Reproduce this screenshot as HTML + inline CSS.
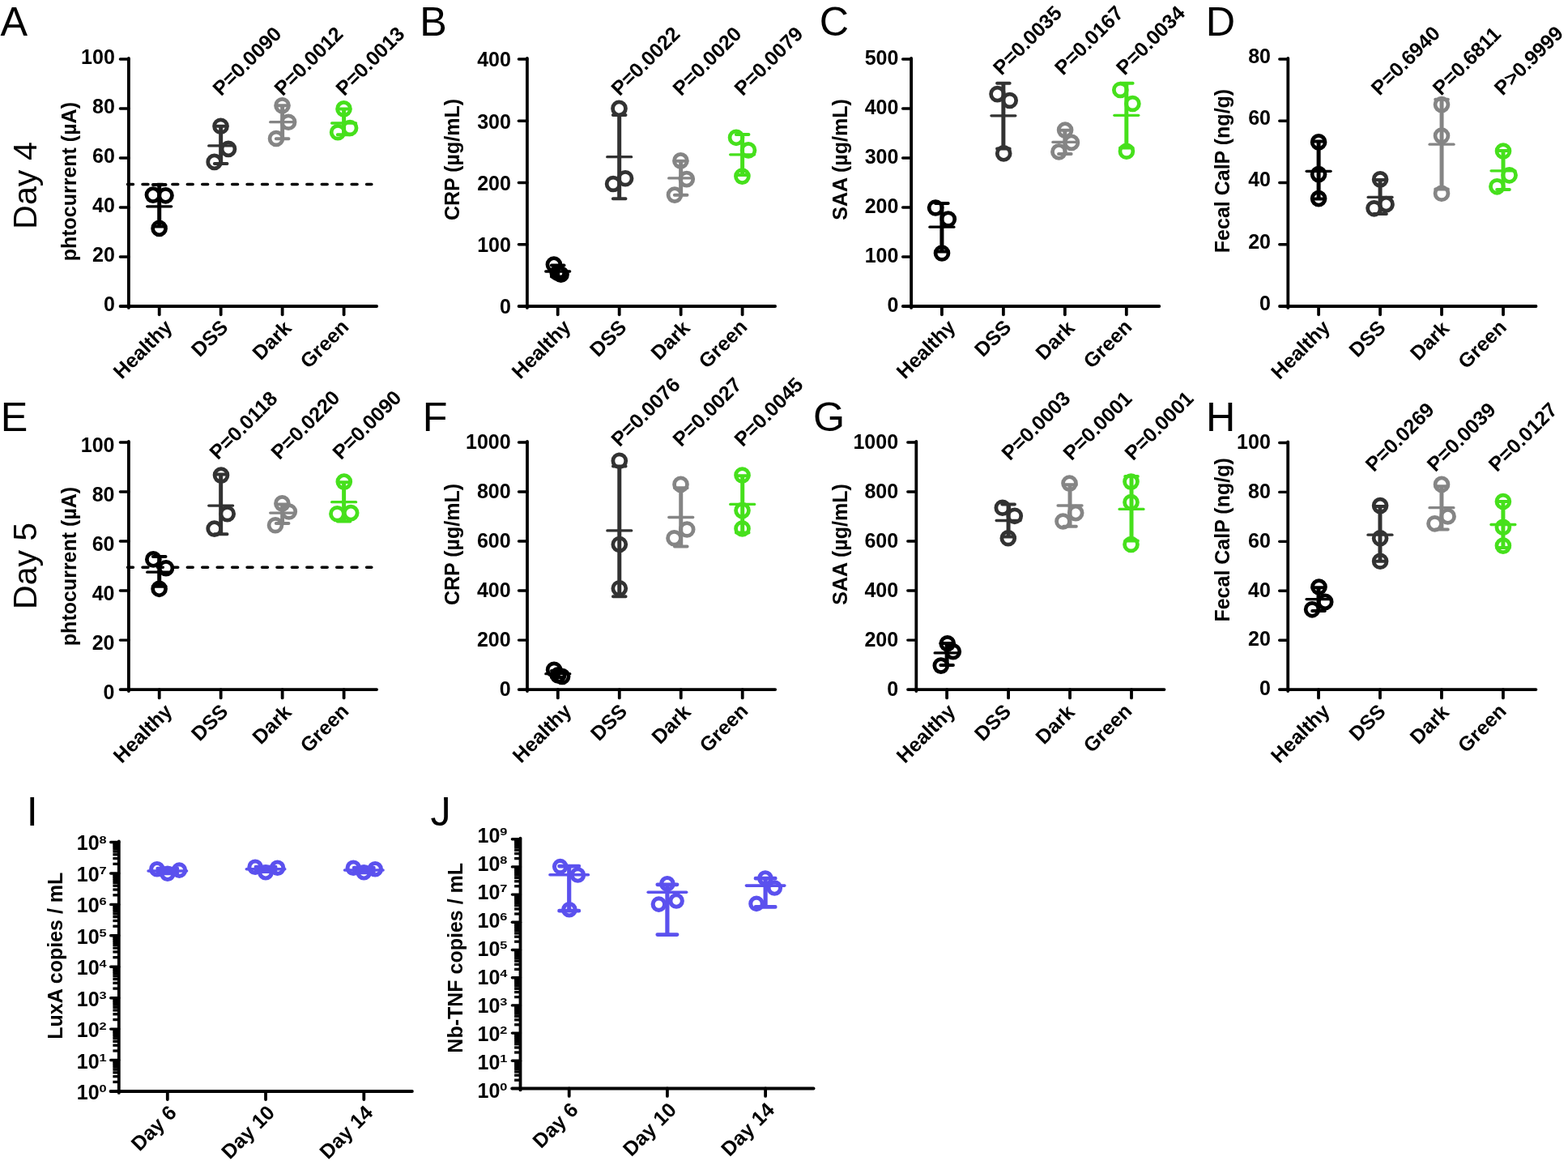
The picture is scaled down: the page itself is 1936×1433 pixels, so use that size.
<!DOCTYPE html>
<html lang="en">
<head>
<meta charset="utf-8">
<title>Figure</title>
<style>
html,body{margin:0;padding:0;background:#fff;}
body{width:1936px;height:1433px;overflow:hidden;}
svg{display:block;font-family:"Liberation Sans",sans-serif;}
</style>
</head>
<body>
<svg width="1936" height="1433" viewBox="0 0 1936 1433">
<rect width="1936" height="1433" fill="#ffffff"/>
<line x1="157.6" y1="227.5" x2="458.8" y2="227.5" stroke="#000000" stroke-width="3.6" stroke-linecap="round" stroke-dasharray="6.8 11.64"/>
<g stroke-linecap="round">
<line x1="158.9" y1="71.9" x2="158.9" y2="379.9" stroke="#000000" stroke-width="3.8"/>
<line x1="148.6" y1="378" x2="465.1" y2="378" stroke="#000000" stroke-width="3.8"/>
<line x1="196.7" y1="378" x2="196.7" y2="388.3" stroke="#000000" stroke-width="3.8"/>
<line x1="272.67" y1="378" x2="272.67" y2="388.3" stroke="#000000" stroke-width="3.8"/>
<line x1="348.64" y1="378" x2="348.64" y2="388.3" stroke="#000000" stroke-width="3.8"/>
<line x1="424.61" y1="378" x2="424.61" y2="388.3" stroke="#000000" stroke-width="3.8"/>
</g>
<g stroke-linecap="round">
<text x="141.8" y="383.95" font-size="25" text-anchor="end" font-weight="bold" fill="#000000">0</text>
<line x1="148.4" y1="317" x2="158.9" y2="317" stroke="#000000" stroke-width="3.4"/>
<text x="141.8" y="322.95" font-size="25" text-anchor="end" font-weight="bold" fill="#000000">20</text>
<line x1="148.4" y1="256" x2="158.9" y2="256" stroke="#000000" stroke-width="3.4"/>
<text x="141.8" y="261.95" font-size="25" text-anchor="end" font-weight="bold" fill="#000000">40</text>
<line x1="148.4" y1="195" x2="158.9" y2="195" stroke="#000000" stroke-width="3.4"/>
<text x="141.8" y="200.95" font-size="25" text-anchor="end" font-weight="bold" fill="#000000">60</text>
<line x1="148.4" y1="134" x2="158.9" y2="134" stroke="#000000" stroke-width="3.4"/>
<text x="141.8" y="139.95" font-size="25" text-anchor="end" font-weight="bold" fill="#000000">80</text>
<line x1="148.4" y1="73" x2="158.9" y2="73" stroke="#000000" stroke-width="3.4"/>
<text x="141.8" y="78.95" font-size="25" text-anchor="end" font-weight="bold" fill="#000000">100</text>
</g>
<text transform="translate(214.1 405.2) rotate(-45)" font-size="25" text-anchor="end" font-weight="bold" fill="#000000">Healthy</text>
<text transform="translate(282.97 405.5) rotate(-45)" font-size="25" text-anchor="end" font-weight="bold" fill="#000000">DSS</text>
<text transform="translate(361.34 406.5) rotate(-45)" font-size="25" text-anchor="end" font-weight="bold" fill="#000000">Dark</text>
<text transform="translate(432.11 405) rotate(-45)" font-size="25" text-anchor="end" font-weight="bold" fill="#000000">Green</text>
<text transform="translate(94.4 224.2) rotate(-90)" font-size="25" text-anchor="middle" font-weight="bold" fill="#000000">phtocurrent (µA)</text>
<text transform="translate(272.97 119.6) rotate(-45)" font-size="25" text-anchor="start" font-weight="bold" fill="#000000">P=0.0090</text>
<text transform="translate(348.94 119.6) rotate(-45)" font-size="25" text-anchor="start" font-weight="bold" fill="#000000">P=0.0012</text>
<text transform="translate(424.91 119.6) rotate(-45)" font-size="25" text-anchor="start" font-weight="bold" fill="#000000">P=0.0013</text>
<g stroke="#000000" fill="none" stroke-linecap="round">
<path d="M196.7 228V279.6" stroke-width="5" stroke-linecap="butt"/>
<path d="M188.9 228H204.5 M188.9 279.6H204.5" stroke-width="4"/>
<path d="M181.75 254.8H211.65" stroke-width="3.3"/>
<circle cx="188.9" cy="240.6" r="7.95" stroke-width="4.75"/>
<circle cx="204.5" cy="241.3" r="7.95" stroke-width="4.75"/>
<circle cx="196.6" cy="281.9" r="7.95" stroke-width="4.75"/>
</g>
<g stroke="#323232" fill="none" stroke-linecap="round">
<path d="M272.67 155.7V202" stroke-width="5" stroke-linecap="butt"/>
<path d="M264.87 155.7H280.47 M264.87 202H280.47" stroke-width="4"/>
<path d="M257.72 179.9H287.62" stroke-width="3.3"/>
<circle cx="272.5" cy="155.7" r="7.95" stroke-width="4.75"/>
<circle cx="282" cy="183.9" r="7.95" stroke-width="4.75"/>
<circle cx="264.7" cy="199.9" r="7.95" stroke-width="4.75"/>
</g>
<g stroke="#858585" fill="none" stroke-linecap="round">
<path d="M348.64 130.2V171.3" stroke-width="5" stroke-linecap="butt"/>
<path d="M340.84 130.2H356.44 M340.84 171.3H356.44" stroke-width="4"/>
<path d="M333.69 150.7H363.59" stroke-width="3.3"/>
<circle cx="348.5" cy="130.2" r="7.95" stroke-width="4.75"/>
<circle cx="356.1" cy="150.7" r="7.95" stroke-width="4.75"/>
<circle cx="341" cy="171" r="7.95" stroke-width="4.75"/>
</g>
<g stroke="#46e01c" fill="none" stroke-linecap="round">
<path d="M424.61 134.6V166.2" stroke-width="5" stroke-linecap="butt"/>
<path d="M416.81 134.6H432.41 M416.81 166.2H432.41" stroke-width="4"/>
<path d="M409.66 152H439.56" stroke-width="3.3"/>
<circle cx="424.5" cy="134.4" r="7.95" stroke-width="4.75"/>
<circle cx="432.1" cy="158" r="7.95" stroke-width="4.75"/>
<circle cx="417.1" cy="163.2" r="7.95" stroke-width="4.75"/>
</g>
<g stroke-linecap="round">
<line x1="650.9" y1="71.9" x2="650.9" y2="379.9" stroke="#000000" stroke-width="3.8"/>
<line x1="640.6" y1="378" x2="957.1" y2="378" stroke="#000000" stroke-width="3.8"/>
<line x1="688.7" y1="378" x2="688.7" y2="388.3" stroke="#000000" stroke-width="3.8"/>
<line x1="764.67" y1="378" x2="764.67" y2="388.3" stroke="#000000" stroke-width="3.8"/>
<line x1="840.64" y1="378" x2="840.64" y2="388.3" stroke="#000000" stroke-width="3.8"/>
<line x1="916.61" y1="378" x2="916.61" y2="388.3" stroke="#000000" stroke-width="3.8"/>
</g>
<g stroke-linecap="round">
<text x="630.9" y="387.45" font-size="25" text-anchor="end" font-weight="bold" fill="#000000">0</text>
<line x1="640.4" y1="301.75" x2="650.9" y2="301.75" stroke="#000000" stroke-width="3.4"/>
<text x="630.9" y="311.2" font-size="25" text-anchor="end" font-weight="bold" fill="#000000">100</text>
<line x1="640.4" y1="225.5" x2="650.9" y2="225.5" stroke="#000000" stroke-width="3.4"/>
<text x="630.9" y="234.95" font-size="25" text-anchor="end" font-weight="bold" fill="#000000">200</text>
<line x1="640.4" y1="149.25" x2="650.9" y2="149.25" stroke="#000000" stroke-width="3.4"/>
<text x="630.9" y="158.7" font-size="25" text-anchor="end" font-weight="bold" fill="#000000">300</text>
<line x1="640.4" y1="73" x2="650.9" y2="73" stroke="#000000" stroke-width="3.4"/>
<text x="630.9" y="82.45" font-size="25" text-anchor="end" font-weight="bold" fill="#000000">400</text>
</g>
<text transform="translate(706.1 405.2) rotate(-45)" font-size="25" text-anchor="end" font-weight="bold" fill="#000000">Healthy</text>
<text transform="translate(774.97 405.5) rotate(-45)" font-size="25" text-anchor="end" font-weight="bold" fill="#000000">DSS</text>
<text transform="translate(853.34 406.5) rotate(-45)" font-size="25" text-anchor="end" font-weight="bold" fill="#000000">Dark</text>
<text transform="translate(924.11 405) rotate(-45)" font-size="25" text-anchor="end" font-weight="bold" fill="#000000">Green</text>
<text transform="translate(567.1 197) rotate(-90)" font-size="25" text-anchor="middle" font-weight="bold" fill="#000000">CRP (µg/mL)</text>
<text transform="translate(764.97 119.6) rotate(-45)" font-size="25" text-anchor="start" font-weight="bold" fill="#000000">P=0.0022</text>
<text transform="translate(840.94 119.6) rotate(-45)" font-size="25" text-anchor="start" font-weight="bold" fill="#000000">P=0.0020</text>
<text transform="translate(916.91 119.6) rotate(-45)" font-size="25" text-anchor="start" font-weight="bold" fill="#000000">P=0.0079</text>
<g stroke="#000000" fill="none" stroke-linecap="round">
<path d="M688.7 327.5V341.5" stroke-width="5" stroke-linecap="butt"/>
<path d="M680.9 327.5H696.5 M680.9 341.5H696.5" stroke-width="4"/>
<path d="M673.75 335H703.65" stroke-width="3.3"/>
<circle cx="683.9" cy="326.6" r="7.95" stroke-width="4.75"/>
<circle cx="688.7" cy="336.8" r="7.95" stroke-width="4.75"/>
<circle cx="692.6" cy="338.7" r="7.95" stroke-width="4.75"/>
</g>
<g stroke="#323232" fill="none" stroke-linecap="round">
<path d="M764.67 141.9V245.2" stroke-width="5" stroke-linecap="butt"/>
<path d="M756.87 141.9H772.47 M756.87 245.2H772.47" stroke-width="4"/>
<path d="M749.72 193.7H779.62" stroke-width="3.3"/>
<circle cx="764.5" cy="133.9" r="7.95" stroke-width="4.75"/>
<circle cx="772.1" cy="220.2" r="7.95" stroke-width="4.75"/>
<circle cx="757.1" cy="227" r="7.95" stroke-width="4.75"/>
</g>
<g stroke="#858585" fill="none" stroke-linecap="round">
<path d="M840.64 198.8V240.8" stroke-width="5" stroke-linecap="butt"/>
<path d="M832.84 198.8H848.44 M832.84 240.8H848.44" stroke-width="4"/>
<path d="M825.69 219.9H855.59" stroke-width="3.3"/>
<circle cx="840.4" cy="198.4" r="7.95" stroke-width="4.75"/>
<circle cx="847.8" cy="221.1" r="7.95" stroke-width="4.75"/>
<circle cx="833" cy="240.6" r="7.95" stroke-width="4.75"/>
</g>
<g stroke="#46e01c" fill="none" stroke-linecap="round">
<path d="M916.61 166V216" stroke-width="5" stroke-linecap="butt"/>
<path d="M908.81 166H924.41 M908.81 216H924.41" stroke-width="4"/>
<path d="M901.66 190.8H931.56" stroke-width="3.3"/>
<circle cx="909" cy="169.8" r="7.95" stroke-width="4.75"/>
<circle cx="924" cy="185.4" r="7.95" stroke-width="4.75"/>
<circle cx="916.4" cy="217.6" r="7.95" stroke-width="4.75"/>
</g>
<g stroke-linecap="round">
<line x1="1125.1" y1="71.9" x2="1125.1" y2="379.9" stroke="#000000" stroke-width="3.8"/>
<line x1="1114.8" y1="378" x2="1431.3" y2="378" stroke="#000000" stroke-width="3.8"/>
<line x1="1162.9" y1="378" x2="1162.9" y2="388.3" stroke="#000000" stroke-width="3.8"/>
<line x1="1238.87" y1="378" x2="1238.87" y2="388.3" stroke="#000000" stroke-width="3.8"/>
<line x1="1314.84" y1="378" x2="1314.84" y2="388.3" stroke="#000000" stroke-width="3.8"/>
<line x1="1390.81" y1="378" x2="1390.81" y2="388.3" stroke="#000000" stroke-width="3.8"/>
</g>
<g stroke-linecap="round">
<text x="1109.4" y="384.65" font-size="25" text-anchor="end" font-weight="bold" fill="#000000">0</text>
<line x1="1114.6" y1="317" x2="1125.1" y2="317" stroke="#000000" stroke-width="3.4"/>
<text x="1109.4" y="323.65" font-size="25" text-anchor="end" font-weight="bold" fill="#000000">100</text>
<line x1="1114.6" y1="256" x2="1125.1" y2="256" stroke="#000000" stroke-width="3.4"/>
<text x="1109.4" y="262.65" font-size="25" text-anchor="end" font-weight="bold" fill="#000000">200</text>
<line x1="1114.6" y1="195" x2="1125.1" y2="195" stroke="#000000" stroke-width="3.4"/>
<text x="1109.4" y="201.65" font-size="25" text-anchor="end" font-weight="bold" fill="#000000">300</text>
<line x1="1114.6" y1="134" x2="1125.1" y2="134" stroke="#000000" stroke-width="3.4"/>
<text x="1109.4" y="140.65" font-size="25" text-anchor="end" font-weight="bold" fill="#000000">400</text>
<line x1="1114.6" y1="73" x2="1125.1" y2="73" stroke="#000000" stroke-width="3.4"/>
<text x="1109.4" y="79.65" font-size="25" text-anchor="end" font-weight="bold" fill="#000000">500</text>
</g>
<text transform="translate(1181.1 405.2) rotate(-45)" font-size="25" text-anchor="end" font-weight="bold" fill="#000000">Healthy</text>
<text transform="translate(1249.97 405.5) rotate(-45)" font-size="25" text-anchor="end" font-weight="bold" fill="#000000">DSS</text>
<text transform="translate(1328.34 406.5) rotate(-45)" font-size="25" text-anchor="end" font-weight="bold" fill="#000000">Dark</text>
<text transform="translate(1399.11 405) rotate(-45)" font-size="25" text-anchor="end" font-weight="bold" fill="#000000">Green</text>
<text transform="translate(1046.4 197) rotate(-90)" font-size="25" text-anchor="middle" font-weight="bold" fill="#000000">SAA (µg/mL)</text>
<text transform="translate(1236.47 93.9) rotate(-45)" font-size="25" text-anchor="start" font-weight="bold" fill="#000000">P=0.0035</text>
<text transform="translate(1312.44 93.9) rotate(-45)" font-size="25" text-anchor="start" font-weight="bold" fill="#000000">P=0.0167</text>
<text transform="translate(1388.41 93.9) rotate(-45)" font-size="25" text-anchor="start" font-weight="bold" fill="#000000">P=0.0034</text>
<g stroke="#000000" fill="none" stroke-linecap="round">
<path d="M1162.9 250.9V310.6" stroke-width="5" stroke-linecap="butt"/>
<path d="M1155.1 250.9H1170.7 M1155.1 310.6H1170.7" stroke-width="4"/>
<path d="M1147.95 280.2H1177.85" stroke-width="3.3"/>
<circle cx="1155.1" cy="256.5" r="7.95" stroke-width="4.75"/>
<circle cx="1170.8" cy="270.5" r="7.95" stroke-width="4.75"/>
<circle cx="1163" cy="312.5" r="7.95" stroke-width="4.75"/>
</g>
<g stroke="#323232" fill="none" stroke-linecap="round">
<path d="M1238.87 102.7V183.4" stroke-width="5" stroke-linecap="butt"/>
<path d="M1231.07 102.7H1246.67 M1231.07 183.4H1246.67" stroke-width="4"/>
<path d="M1223.92 142.8H1253.82" stroke-width="3.3"/>
<circle cx="1231.5" cy="116.1" r="7.95" stroke-width="4.75"/>
<circle cx="1246.7" cy="124" r="7.95" stroke-width="4.75"/>
<circle cx="1239.2" cy="189.4" r="7.95" stroke-width="4.75"/>
</g>
<g stroke="#858585" fill="none" stroke-linecap="round">
<path d="M1314.84 160.7V189.9" stroke-width="5" stroke-linecap="butt"/>
<path d="M1307.04 160.7H1322.64 M1307.04 189.9H1322.64" stroke-width="4"/>
<path d="M1299.89 175.4H1329.79" stroke-width="3.3"/>
<circle cx="1315.1" cy="160.6" r="7.95" stroke-width="4.75"/>
<circle cx="1322.9" cy="175.9" r="7.95" stroke-width="4.75"/>
<circle cx="1307.4" cy="187.4" r="7.95" stroke-width="4.75"/>
</g>
<g stroke="#46e01c" fill="none" stroke-linecap="round">
<path d="M1390.81 102.7V182.6" stroke-width="5" stroke-linecap="butt"/>
<path d="M1383.01 102.7H1398.61 M1383.01 182.6H1398.61" stroke-width="4"/>
<path d="M1375.86 142.3H1405.76" stroke-width="3.3"/>
<circle cx="1383.3" cy="111" r="7.95" stroke-width="4.75"/>
<circle cx="1398.4" cy="128" r="7.95" stroke-width="4.75"/>
<circle cx="1390.9" cy="186.7" r="7.95" stroke-width="4.75"/>
</g>
<g stroke-linecap="round">
<line x1="1590.3" y1="71.9" x2="1590.3" y2="379.9" stroke="#000000" stroke-width="3.8"/>
<line x1="1580" y1="378" x2="1896.5" y2="378" stroke="#000000" stroke-width="3.8"/>
<line x1="1628.1" y1="378" x2="1628.1" y2="388.3" stroke="#000000" stroke-width="3.8"/>
<line x1="1704.07" y1="378" x2="1704.07" y2="388.3" stroke="#000000" stroke-width="3.8"/>
<line x1="1780.04" y1="378" x2="1780.04" y2="388.3" stroke="#000000" stroke-width="3.8"/>
<line x1="1856.01" y1="378" x2="1856.01" y2="388.3" stroke="#000000" stroke-width="3.8"/>
</g>
<g stroke-linecap="round">
<text x="1569" y="382.75" font-size="25" text-anchor="end" font-weight="bold" fill="#000000">0</text>
<line x1="1579.8" y1="301.75" x2="1590.3" y2="301.75" stroke="#000000" stroke-width="3.4"/>
<text x="1569" y="306.5" font-size="25" text-anchor="end" font-weight="bold" fill="#000000">20</text>
<line x1="1579.8" y1="225.5" x2="1590.3" y2="225.5" stroke="#000000" stroke-width="3.4"/>
<text x="1569" y="230.25" font-size="25" text-anchor="end" font-weight="bold" fill="#000000">40</text>
<line x1="1579.8" y1="149.25" x2="1590.3" y2="149.25" stroke="#000000" stroke-width="3.4"/>
<text x="1569" y="154" font-size="25" text-anchor="end" font-weight="bold" fill="#000000">60</text>
<line x1="1579.8" y1="73" x2="1590.3" y2="73" stroke="#000000" stroke-width="3.4"/>
<text x="1569" y="77.75" font-size="25" text-anchor="end" font-weight="bold" fill="#000000">80</text>
</g>
<text transform="translate(1643.5 405.7) rotate(-45)" font-size="25" text-anchor="end" font-weight="bold" fill="#000000">Healthy</text>
<text transform="translate(1712.37 406) rotate(-45)" font-size="25" text-anchor="end" font-weight="bold" fill="#000000">DSS</text>
<text transform="translate(1790.74 407) rotate(-45)" font-size="25" text-anchor="end" font-weight="bold" fill="#000000">Dark</text>
<text transform="translate(1861.51 405.5) rotate(-45)" font-size="25" text-anchor="end" font-weight="bold" fill="#000000">Green</text>
<text transform="translate(1517.5 211) rotate(-90)" font-size="25" text-anchor="middle" font-weight="bold" fill="#000000">Fecal CalP (ng/g)</text>
<text transform="translate(1703.37 118.9) rotate(-45)" font-size="25" text-anchor="start" font-weight="bold" fill="#000000">P=0.6940</text>
<text transform="translate(1779.34 118.9) rotate(-45)" font-size="25" text-anchor="start" font-weight="bold" fill="#000000">P=0.6811</text>
<text transform="translate(1855.31 118.9) rotate(-45)" font-size="25" text-anchor="start" font-weight="bold" fill="#000000">P&gt;0.9999</text>
<g stroke="#000000" fill="none" stroke-linecap="round">
<path d="M1628.1 174.5V245.5" stroke-width="5" stroke-linecap="butt"/>
<path d="M1620.3 174.5H1635.9 M1620.3 245.5H1635.9" stroke-width="4"/>
<path d="M1613.15 211.3H1643.05" stroke-width="3.3"/>
<circle cx="1628.1" cy="175.4" r="7.95" stroke-width="4.75"/>
<circle cx="1628.1" cy="215.1" r="7.95" stroke-width="4.75"/>
<circle cx="1628.1" cy="245.1" r="7.95" stroke-width="4.75"/>
</g>
<g stroke="#323232" fill="none" stroke-linecap="round">
<path d="M1704.07 222V264" stroke-width="5" stroke-linecap="butt"/>
<path d="M1696.27 222H1711.87 M1696.27 264H1711.87" stroke-width="4"/>
<path d="M1689.12 243.4H1719.02" stroke-width="3.3"/>
<circle cx="1704.1" cy="221.4" r="7.95" stroke-width="4.75"/>
<circle cx="1711.5" cy="252.1" r="7.95" stroke-width="4.75"/>
<circle cx="1696.6" cy="257.3" r="7.95" stroke-width="4.75"/>
</g>
<g stroke="#858585" fill="none" stroke-linecap="round">
<path d="M1780.04 122.8V233.5" stroke-width="5" stroke-linecap="butt"/>
<path d="M1772.24 122.8H1787.84 M1772.24 233.5H1787.84" stroke-width="4"/>
<path d="M1765.09 178.2H1794.99" stroke-width="3.3"/>
<circle cx="1780" cy="129.1" r="7.95" stroke-width="4.75"/>
<circle cx="1780" cy="167.6" r="7.95" stroke-width="4.75"/>
<circle cx="1780" cy="238.7" r="7.95" stroke-width="4.75"/>
</g>
<g stroke="#46e01c" fill="none" stroke-linecap="round">
<path d="M1856.01 186V234" stroke-width="5" stroke-linecap="butt"/>
<path d="M1848.21 186H1863.81 M1848.21 234H1863.81" stroke-width="4"/>
<path d="M1841.06 210.8H1870.96" stroke-width="3.3"/>
<circle cx="1856" cy="186.5" r="7.95" stroke-width="4.75"/>
<circle cx="1863.6" cy="216.3" r="7.95" stroke-width="4.75"/>
<circle cx="1848.4" cy="230.3" r="7.95" stroke-width="4.75"/>
</g>
<line x1="157.6" y1="700.2" x2="458.8" y2="700.2" stroke="#000000" stroke-width="3.6" stroke-linecap="round" stroke-dasharray="6.8 11.64"/>
<g stroke-linecap="round">
<line x1="158.9" y1="544.9" x2="158.9" y2="853" stroke="#000000" stroke-width="3.8"/>
<line x1="148.6" y1="851.1" x2="465.1" y2="851.1" stroke="#000000" stroke-width="3.8"/>
<line x1="196.7" y1="851.1" x2="196.7" y2="861.4" stroke="#000000" stroke-width="3.8"/>
<line x1="272.67" y1="851.1" x2="272.67" y2="861.4" stroke="#000000" stroke-width="3.8"/>
<line x1="348.64" y1="851.1" x2="348.64" y2="861.4" stroke="#000000" stroke-width="3.8"/>
<line x1="424.61" y1="851.1" x2="424.61" y2="861.4" stroke="#000000" stroke-width="3.8"/>
</g>
<g stroke-linecap="round">
<text x="141.5" y="863.25" font-size="25" text-anchor="end" font-weight="bold" fill="#000000">0</text>
<line x1="148.4" y1="790.08" x2="158.9" y2="790.08" stroke="#000000" stroke-width="3.4"/>
<text x="141.5" y="802.23" font-size="25" text-anchor="end" font-weight="bold" fill="#000000">20</text>
<line x1="148.4" y1="729.06" x2="158.9" y2="729.06" stroke="#000000" stroke-width="3.4"/>
<text x="141.5" y="741.21" font-size="25" text-anchor="end" font-weight="bold" fill="#000000">40</text>
<line x1="148.4" y1="668.04" x2="158.9" y2="668.04" stroke="#000000" stroke-width="3.4"/>
<text x="141.5" y="680.19" font-size="25" text-anchor="end" font-weight="bold" fill="#000000">60</text>
<line x1="148.4" y1="607.02" x2="158.9" y2="607.02" stroke="#000000" stroke-width="3.4"/>
<text x="141.5" y="619.17" font-size="25" text-anchor="end" font-weight="bold" fill="#000000">80</text>
<line x1="148.4" y1="546" x2="158.9" y2="546" stroke="#000000" stroke-width="3.4"/>
<text x="141.5" y="558.15" font-size="25" text-anchor="end" font-weight="bold" fill="#000000">100</text>
</g>
<text transform="translate(214.1 879.3) rotate(-45)" font-size="25" text-anchor="end" font-weight="bold" fill="#000000">Healthy</text>
<text transform="translate(282.97 879.6) rotate(-45)" font-size="25" text-anchor="end" font-weight="bold" fill="#000000">DSS</text>
<text transform="translate(361.34 880.6) rotate(-45)" font-size="25" text-anchor="end" font-weight="bold" fill="#000000">Dark</text>
<text transform="translate(432.11 879.1) rotate(-45)" font-size="25" text-anchor="end" font-weight="bold" fill="#000000">Green</text>
<text transform="translate(94.4 699) rotate(-90)" font-size="25" text-anchor="middle" font-weight="bold" fill="#000000">phtocurrent (µA)</text>
<text transform="translate(268.97 568.6) rotate(-45)" font-size="25" text-anchor="start" font-weight="bold" fill="#000000">P=0.0118</text>
<text transform="translate(344.94 568.6) rotate(-45)" font-size="25" text-anchor="start" font-weight="bold" fill="#000000">P=0.0220</text>
<text transform="translate(420.91 568.6) rotate(-45)" font-size="25" text-anchor="start" font-weight="bold" fill="#000000">P=0.0090</text>
<g stroke="#000000" fill="none" stroke-linecap="round">
<path d="M196.7 687V723.8" stroke-width="5" stroke-linecap="butt"/>
<path d="M188.9 687H204.5 M188.9 723.8H204.5" stroke-width="4"/>
<path d="M181.75 706.2H211.65" stroke-width="3.3"/>
<circle cx="189.3" cy="690.4" r="7.95" stroke-width="4.75"/>
<circle cx="205" cy="701.2" r="7.95" stroke-width="4.75"/>
<circle cx="196.6" cy="726.8" r="7.95" stroke-width="4.75"/>
</g>
<g stroke="#323232" fill="none" stroke-linecap="round">
<path d="M272.67 585.6V659.3" stroke-width="5" stroke-linecap="butt"/>
<path d="M264.87 585.6H280.47 M264.87 659.3H280.47" stroke-width="4"/>
<path d="M257.72 624.1H287.62" stroke-width="3.3"/>
<circle cx="273" cy="586.6" r="7.95" stroke-width="4.75"/>
<circle cx="280.7" cy="634.2" r="7.95" stroke-width="4.75"/>
<circle cx="264.7" cy="652.6" r="7.95" stroke-width="4.75"/>
</g>
<g stroke="#858585" fill="none" stroke-linecap="round">
<path d="M348.64 622.4V645.9" stroke-width="5" stroke-linecap="butt"/>
<path d="M340.84 622.4H356.44 M340.84 645.9H356.44" stroke-width="4"/>
<path d="M333.69 633.1H363.59" stroke-width="3.3"/>
<circle cx="348.4" cy="621.4" r="7.95" stroke-width="4.75"/>
<circle cx="356.8" cy="631.5" r="7.95" stroke-width="4.75"/>
<circle cx="340" cy="648.2" r="7.95" stroke-width="4.75"/>
</g>
<g stroke="#46e01c" fill="none" stroke-linecap="round">
<path d="M424.61 595.2V643.5" stroke-width="5" stroke-linecap="butt"/>
<path d="M416.81 595.2H432.41 M416.81 643.5H432.41" stroke-width="4"/>
<path d="M409.66 619.7H439.56" stroke-width="3.3"/>
<circle cx="424.8" cy="594.6" r="7.95" stroke-width="4.75"/>
<circle cx="433.2" cy="633.1" r="7.95" stroke-width="4.75"/>
<circle cx="416.4" cy="634.2" r="7.95" stroke-width="4.75"/>
</g>
<g stroke-linecap="round">
<line x1="651" y1="544.9" x2="651" y2="853" stroke="#000000" stroke-width="3.8"/>
<line x1="640.7" y1="851.1" x2="957.2" y2="851.1" stroke="#000000" stroke-width="3.8"/>
<line x1="688.8" y1="851.1" x2="688.8" y2="861.4" stroke="#000000" stroke-width="3.8"/>
<line x1="764.77" y1="851.1" x2="764.77" y2="861.4" stroke="#000000" stroke-width="3.8"/>
<line x1="840.74" y1="851.1" x2="840.74" y2="861.4" stroke="#000000" stroke-width="3.8"/>
<line x1="916.71" y1="851.1" x2="916.71" y2="861.4" stroke="#000000" stroke-width="3.8"/>
</g>
<g stroke-linecap="round">
<text x="630.7" y="858.95" font-size="25" text-anchor="end" font-weight="bold" fill="#000000">0</text>
<line x1="640.5" y1="790.08" x2="651" y2="790.08" stroke="#000000" stroke-width="3.4"/>
<text x="630.7" y="797.93" font-size="25" text-anchor="end" font-weight="bold" fill="#000000">200</text>
<line x1="640.5" y1="729.06" x2="651" y2="729.06" stroke="#000000" stroke-width="3.4"/>
<text x="630.7" y="736.91" font-size="25" text-anchor="end" font-weight="bold" fill="#000000">400</text>
<line x1="640.5" y1="668.04" x2="651" y2="668.04" stroke="#000000" stroke-width="3.4"/>
<text x="630.7" y="675.89" font-size="25" text-anchor="end" font-weight="bold" fill="#000000">600</text>
<line x1="640.5" y1="607.02" x2="651" y2="607.02" stroke="#000000" stroke-width="3.4"/>
<text x="630.7" y="614.87" font-size="25" text-anchor="end" font-weight="bold" fill="#000000">800</text>
<line x1="640.5" y1="546" x2="651" y2="546" stroke="#000000" stroke-width="3.4"/>
<text x="630.7" y="553.85" font-size="25" text-anchor="end" font-weight="bold" fill="#000000">1000</text>
</g>
<text transform="translate(707 879.1) rotate(-45)" font-size="25" text-anchor="end" font-weight="bold" fill="#000000">Healthy</text>
<text transform="translate(775.87 879.4) rotate(-45)" font-size="25" text-anchor="end" font-weight="bold" fill="#000000">DSS</text>
<text transform="translate(854.24 880.4) rotate(-45)" font-size="25" text-anchor="end" font-weight="bold" fill="#000000">Dark</text>
<text transform="translate(925.01 878.9) rotate(-45)" font-size="25" text-anchor="end" font-weight="bold" fill="#000000">Green</text>
<text transform="translate(567.1 672) rotate(-90)" font-size="25" text-anchor="middle" font-weight="bold" fill="#000000">CRP (µg/mL)</text>
<text transform="translate(765.07 552.6) rotate(-45)" font-size="25" text-anchor="start" font-weight="bold" fill="#000000">P=0.0076</text>
<text transform="translate(841.04 552.6) rotate(-45)" font-size="25" text-anchor="start" font-weight="bold" fill="#000000">P=0.0027</text>
<text transform="translate(917.01 552.6) rotate(-45)" font-size="25" text-anchor="start" font-weight="bold" fill="#000000">P=0.0045</text>
<g stroke="#000000" fill="none" stroke-linecap="round">
<path d="M688.8 828V836" stroke-width="5" stroke-linecap="butt"/>
<path d="M681 828H696.6 M681 836H696.6" stroke-width="4"/>
<path d="M673.85 831.7H703.75" stroke-width="3.3"/>
<circle cx="684.1" cy="826.7" r="7.95" stroke-width="4.75"/>
<circle cx="689.1" cy="833.4" r="7.95" stroke-width="4.75"/>
<circle cx="694.1" cy="835" r="7.95" stroke-width="4.75"/>
</g>
<g stroke="#323232" fill="none" stroke-linecap="round">
<path d="M764.77 575.5V736.2" stroke-width="5" stroke-linecap="butt"/>
<path d="M756.97 575.5H772.57 M756.97 736.2H772.57" stroke-width="4"/>
<path d="M749.82 654.9H779.72" stroke-width="3.3"/>
<circle cx="764.8" cy="568.8" r="7.95" stroke-width="4.75"/>
<circle cx="764.8" cy="672" r="7.95" stroke-width="4.75"/>
<circle cx="764.8" cy="726.2" r="7.95" stroke-width="4.75"/>
</g>
<g stroke="#858585" fill="none" stroke-linecap="round">
<path d="M840.74 602.2V674.6" stroke-width="5" stroke-linecap="butt"/>
<path d="M832.94 602.2H848.54 M832.94 674.6H848.54" stroke-width="4"/>
<path d="M825.79 638.5H855.69" stroke-width="3.3"/>
<circle cx="840.5" cy="597.9" r="7.95" stroke-width="4.75"/>
<circle cx="848.2" cy="653.5" r="7.95" stroke-width="4.75"/>
<circle cx="832.5" cy="664.2" r="7.95" stroke-width="4.75"/>
</g>
<g stroke="#46e01c" fill="none" stroke-linecap="round">
<path d="M916.71 587.2V657.5" stroke-width="5" stroke-linecap="butt"/>
<path d="M908.91 587.2H924.51 M908.91 657.5H924.51" stroke-width="4"/>
<path d="M901.76 622.4H931.66" stroke-width="3.3"/>
<circle cx="916.5" cy="586.5" r="7.95" stroke-width="4.75"/>
<circle cx="916.5" cy="630.1" r="7.95" stroke-width="4.75"/>
<circle cx="916.5" cy="652.5" r="7.95" stroke-width="4.75"/>
</g>
<g stroke-linecap="round">
<line x1="1131.3" y1="544.9" x2="1131.3" y2="853" stroke="#000000" stroke-width="3.8"/>
<line x1="1121" y1="851.1" x2="1437.5" y2="851.1" stroke="#000000" stroke-width="3.8"/>
<line x1="1169.1" y1="851.1" x2="1169.1" y2="861.4" stroke="#000000" stroke-width="3.8"/>
<line x1="1245.07" y1="851.1" x2="1245.07" y2="861.4" stroke="#000000" stroke-width="3.8"/>
<line x1="1321.04" y1="851.1" x2="1321.04" y2="861.4" stroke="#000000" stroke-width="3.8"/>
<line x1="1397.01" y1="851.1" x2="1397.01" y2="861.4" stroke="#000000" stroke-width="3.8"/>
</g>
<g stroke-linecap="round">
<text x="1109.1" y="859.25" font-size="25" text-anchor="end" font-weight="bold" fill="#000000">0</text>
<line x1="1120.8" y1="790.08" x2="1131.3" y2="790.08" stroke="#000000" stroke-width="3.4"/>
<text x="1109.1" y="798.23" font-size="25" text-anchor="end" font-weight="bold" fill="#000000">200</text>
<line x1="1120.8" y1="729.06" x2="1131.3" y2="729.06" stroke="#000000" stroke-width="3.4"/>
<text x="1109.1" y="737.21" font-size="25" text-anchor="end" font-weight="bold" fill="#000000">400</text>
<line x1="1120.8" y1="668.04" x2="1131.3" y2="668.04" stroke="#000000" stroke-width="3.4"/>
<text x="1109.1" y="676.19" font-size="25" text-anchor="end" font-weight="bold" fill="#000000">600</text>
<line x1="1120.8" y1="607.02" x2="1131.3" y2="607.02" stroke="#000000" stroke-width="3.4"/>
<text x="1109.1" y="615.17" font-size="25" text-anchor="end" font-weight="bold" fill="#000000">800</text>
<line x1="1120.8" y1="546" x2="1131.3" y2="546" stroke="#000000" stroke-width="3.4"/>
<text x="1109.1" y="554.15" font-size="25" text-anchor="end" font-weight="bold" fill="#000000">1000</text>
</g>
<text transform="translate(1181 879.3) rotate(-45)" font-size="25" text-anchor="end" font-weight="bold" fill="#000000">Healthy</text>
<text transform="translate(1249.87 879.6) rotate(-45)" font-size="25" text-anchor="end" font-weight="bold" fill="#000000">DSS</text>
<text transform="translate(1328.24 880.6) rotate(-45)" font-size="25" text-anchor="end" font-weight="bold" fill="#000000">Dark</text>
<text transform="translate(1399.01 879.1) rotate(-45)" font-size="25" text-anchor="end" font-weight="bold" fill="#000000">Green</text>
<text transform="translate(1046.4 672) rotate(-90)" font-size="25" text-anchor="middle" font-weight="bold" fill="#000000">SAA (µg/mL)</text>
<text transform="translate(1246.97 569.6) rotate(-45)" font-size="25" text-anchor="start" font-weight="bold" fill="#000000">P=0.0003</text>
<text transform="translate(1322.94 569.6) rotate(-45)" font-size="25" text-anchor="start" font-weight="bold" fill="#000000">P=0.0001</text>
<text transform="translate(1398.91 569.6) rotate(-45)" font-size="25" text-anchor="start" font-weight="bold" fill="#000000">P=0.0001</text>
<g stroke="#000000" fill="none" stroke-linecap="round">
<path d="M1169.1 794V821" stroke-width="5" stroke-linecap="butt"/>
<path d="M1161.3 794H1176.9 M1161.3 821H1176.9" stroke-width="4"/>
<path d="M1154.15 805.9H1184.05" stroke-width="3.3"/>
<circle cx="1169.8" cy="794.2" r="7.95" stroke-width="4.75"/>
<circle cx="1176.8" cy="804.2" r="7.95" stroke-width="4.75"/>
<circle cx="1161.8" cy="821.6" r="7.95" stroke-width="4.75"/>
</g>
<g stroke="#323232" fill="none" stroke-linecap="round">
<path d="M1245.07 622.4V662.6" stroke-width="5" stroke-linecap="butt"/>
<path d="M1237.27 622.4H1252.87 M1237.27 662.6H1252.87" stroke-width="4"/>
<path d="M1230.12 642.5H1260.02" stroke-width="3.3"/>
<circle cx="1237.8" cy="626.7" r="7.95" stroke-width="4.75"/>
<circle cx="1252.8" cy="636.8" r="7.95" stroke-width="4.75"/>
<circle cx="1244.8" cy="664.2" r="7.95" stroke-width="4.75"/>
</g>
<g stroke="#858585" fill="none" stroke-linecap="round">
<path d="M1321.04 598.3V649.8" stroke-width="5" stroke-linecap="butt"/>
<path d="M1313.24 598.3H1328.84 M1313.24 649.8H1328.84" stroke-width="4"/>
<path d="M1306.09 624H1335.99" stroke-width="3.3"/>
<circle cx="1320.5" cy="596.6" r="7.95" stroke-width="4.75"/>
<circle cx="1328.2" cy="633.1" r="7.95" stroke-width="4.75"/>
<circle cx="1312.5" cy="643.5" r="7.95" stroke-width="4.75"/>
</g>
<g stroke="#46e01c" fill="none" stroke-linecap="round">
<path d="M1397.01 587.9V667.6" stroke-width="5" stroke-linecap="butt"/>
<path d="M1389.21 587.9H1404.81 M1389.21 667.6H1404.81" stroke-width="4"/>
<path d="M1382.06 628.4H1411.96" stroke-width="3.3"/>
<circle cx="1396.5" cy="594.6" r="7.95" stroke-width="4.75"/>
<circle cx="1396.5" cy="620" r="7.95" stroke-width="4.75"/>
<circle cx="1396.5" cy="672" r="7.95" stroke-width="4.75"/>
</g>
<g stroke-linecap="round">
<line x1="1590.2" y1="545.4" x2="1590.2" y2="853" stroke="#000000" stroke-width="3.8"/>
<line x1="1579.9" y1="851.1" x2="1896.4" y2="851.1" stroke="#000000" stroke-width="3.8"/>
<line x1="1628" y1="851.1" x2="1628" y2="861.4" stroke="#000000" stroke-width="3.8"/>
<line x1="1703.97" y1="851.1" x2="1703.97" y2="861.4" stroke="#000000" stroke-width="3.8"/>
<line x1="1779.94" y1="851.1" x2="1779.94" y2="861.4" stroke="#000000" stroke-width="3.8"/>
<line x1="1855.91" y1="851.1" x2="1855.91" y2="861.4" stroke="#000000" stroke-width="3.8"/>
</g>
<g stroke-linecap="round">
<text x="1568.8" y="858.35" font-size="25" text-anchor="end" font-weight="bold" fill="#000000">0</text>
<line x1="1579.7" y1="790.18" x2="1590.2" y2="790.18" stroke="#000000" stroke-width="3.4"/>
<text x="1568.8" y="797.43" font-size="25" text-anchor="end" font-weight="bold" fill="#000000">20</text>
<line x1="1579.7" y1="729.26" x2="1590.2" y2="729.26" stroke="#000000" stroke-width="3.4"/>
<text x="1568.8" y="736.51" font-size="25" text-anchor="end" font-weight="bold" fill="#000000">40</text>
<line x1="1579.7" y1="668.34" x2="1590.2" y2="668.34" stroke="#000000" stroke-width="3.4"/>
<text x="1568.8" y="675.59" font-size="25" text-anchor="end" font-weight="bold" fill="#000000">60</text>
<line x1="1579.7" y1="607.42" x2="1590.2" y2="607.42" stroke="#000000" stroke-width="3.4"/>
<text x="1568.8" y="614.67" font-size="25" text-anchor="end" font-weight="bold" fill="#000000">80</text>
<line x1="1579.7" y1="546.5" x2="1590.2" y2="546.5" stroke="#000000" stroke-width="3.4"/>
<text x="1568.8" y="553.75" font-size="25" text-anchor="end" font-weight="bold" fill="#000000">100</text>
</g>
<text transform="translate(1643.4 879.3) rotate(-45)" font-size="25" text-anchor="end" font-weight="bold" fill="#000000">Healthy</text>
<text transform="translate(1712.27 879.6) rotate(-45)" font-size="25" text-anchor="end" font-weight="bold" fill="#000000">DSS</text>
<text transform="translate(1790.64 880.6) rotate(-45)" font-size="25" text-anchor="end" font-weight="bold" fill="#000000">Dark</text>
<text transform="translate(1861.41 879.1) rotate(-45)" font-size="25" text-anchor="end" font-weight="bold" fill="#000000">Green</text>
<text transform="translate(1517.5 666.4) rotate(-90)" font-size="25" text-anchor="middle" font-weight="bold" fill="#000000">Fecal CalP (ng/g)</text>
<text transform="translate(1696.27 583.6) rotate(-45)" font-size="25" text-anchor="start" font-weight="bold" fill="#000000">P=0.0269</text>
<text transform="translate(1772.24 583.6) rotate(-45)" font-size="25" text-anchor="start" font-weight="bold" fill="#000000">P=0.0039</text>
<text transform="translate(1848.21 583.6) rotate(-45)" font-size="25" text-anchor="start" font-weight="bold" fill="#000000">P=0.0127</text>
<g stroke="#000000" fill="none" stroke-linecap="round">
<path d="M1628 725.2V754" stroke-width="5" stroke-linecap="butt"/>
<path d="M1620.2 725.2H1635.8 M1620.2 754H1635.8" stroke-width="4"/>
<path d="M1613.05 739.6H1642.95" stroke-width="3.3"/>
<circle cx="1628.5" cy="724.5" r="7.95" stroke-width="4.75"/>
<circle cx="1636.2" cy="742.9" r="7.95" stroke-width="4.75"/>
<circle cx="1620.1" cy="752.3" r="7.95" stroke-width="4.75"/>
</g>
<g stroke="#323232" fill="none" stroke-linecap="round">
<path d="M1703.97 625V692.7" stroke-width="5" stroke-linecap="butt"/>
<path d="M1696.17 625H1711.77 M1696.17 692.7H1711.77" stroke-width="4"/>
<path d="M1689.02 660.2H1718.92" stroke-width="3.3"/>
<circle cx="1704.1" cy="624.1" r="7.95" stroke-width="4.75"/>
<circle cx="1704.1" cy="664.2" r="7.95" stroke-width="4.75"/>
<circle cx="1704.1" cy="692.7" r="7.95" stroke-width="4.75"/>
</g>
<g stroke="#858585" fill="none" stroke-linecap="round">
<path d="M1779.94 600.3V653.6" stroke-width="5" stroke-linecap="butt"/>
<path d="M1772.14 600.3H1787.74 M1772.14 653.6H1787.74" stroke-width="4"/>
<path d="M1764.99 626.7H1794.89" stroke-width="3.3"/>
<circle cx="1780" cy="597.9" r="7.95" stroke-width="4.75"/>
<circle cx="1787.6" cy="637.4" r="7.95" stroke-width="4.75"/>
<circle cx="1771.5" cy="646.3" r="7.95" stroke-width="4.75"/>
</g>
<g stroke="#46e01c" fill="none" stroke-linecap="round">
<path d="M1855.91 619V676" stroke-width="5" stroke-linecap="butt"/>
<path d="M1848.11 619H1863.71 M1848.11 676H1863.71" stroke-width="4"/>
<path d="M1840.96 647.5H1870.86" stroke-width="3.3"/>
<circle cx="1855.9" cy="619" r="7.95" stroke-width="4.75"/>
<circle cx="1855.9" cy="650.8" r="7.95" stroke-width="4.75"/>
<circle cx="1855.9" cy="673.6" r="7.95" stroke-width="4.75"/>
</g>
<g stroke-linecap="butt">
<line x1="139.4" y1="1335.43" x2="146.8" y2="1335.43" stroke="#000000" stroke-width="3.3"/>
<line x1="139.4" y1="1328.66" x2="146.8" y2="1328.66" stroke="#000000" stroke-width="3.3"/>
<line x1="139.4" y1="1323.86" x2="146.8" y2="1323.86" stroke="#000000" stroke-width="3.3"/>
<line x1="139.4" y1="1320.13" x2="146.8" y2="1320.13" stroke="#000000" stroke-width="3.3"/>
<line x1="139.4" y1="1317.09" x2="146.8" y2="1317.09" stroke="#000000" stroke-width="3.3"/>
<line x1="139.4" y1="1314.52" x2="146.8" y2="1314.52" stroke="#000000" stroke-width="3.3"/>
<line x1="139.4" y1="1312.29" x2="146.8" y2="1312.29" stroke="#000000" stroke-width="3.3"/>
<line x1="139.4" y1="1310.32" x2="146.8" y2="1310.32" stroke="#000000" stroke-width="3.3"/>
<line x1="139.4" y1="1296.99" x2="146.8" y2="1296.99" stroke="#000000" stroke-width="3.3"/>
<line x1="139.4" y1="1290.22" x2="146.8" y2="1290.22" stroke="#000000" stroke-width="3.3"/>
<line x1="139.4" y1="1285.42" x2="146.8" y2="1285.42" stroke="#000000" stroke-width="3.3"/>
<line x1="139.4" y1="1281.7" x2="146.8" y2="1281.7" stroke="#000000" stroke-width="3.3"/>
<line x1="139.4" y1="1278.65" x2="146.8" y2="1278.65" stroke="#000000" stroke-width="3.3"/>
<line x1="139.4" y1="1276.08" x2="146.8" y2="1276.08" stroke="#000000" stroke-width="3.3"/>
<line x1="139.4" y1="1273.85" x2="146.8" y2="1273.85" stroke="#000000" stroke-width="3.3"/>
<line x1="139.4" y1="1271.88" x2="146.8" y2="1271.88" stroke="#000000" stroke-width="3.3"/>
<line x1="139.4" y1="1258.55" x2="146.8" y2="1258.55" stroke="#000000" stroke-width="3.3"/>
<line x1="139.4" y1="1251.79" x2="146.8" y2="1251.79" stroke="#000000" stroke-width="3.3"/>
<line x1="139.4" y1="1246.98" x2="146.8" y2="1246.98" stroke="#000000" stroke-width="3.3"/>
<line x1="139.4" y1="1243.26" x2="146.8" y2="1243.26" stroke="#000000" stroke-width="3.3"/>
<line x1="139.4" y1="1240.21" x2="146.8" y2="1240.21" stroke="#000000" stroke-width="3.3"/>
<line x1="139.4" y1="1237.64" x2="146.8" y2="1237.64" stroke="#000000" stroke-width="3.3"/>
<line x1="139.4" y1="1235.41" x2="146.8" y2="1235.41" stroke="#000000" stroke-width="3.3"/>
<line x1="139.4" y1="1233.45" x2="146.8" y2="1233.45" stroke="#000000" stroke-width="3.3"/>
<line x1="139.4" y1="1220.12" x2="146.8" y2="1220.12" stroke="#000000" stroke-width="3.3"/>
<line x1="139.4" y1="1213.35" x2="146.8" y2="1213.35" stroke="#000000" stroke-width="3.3"/>
<line x1="139.4" y1="1208.55" x2="146.8" y2="1208.55" stroke="#000000" stroke-width="3.3"/>
<line x1="139.4" y1="1204.82" x2="146.8" y2="1204.82" stroke="#000000" stroke-width="3.3"/>
<line x1="139.4" y1="1201.78" x2="146.8" y2="1201.78" stroke="#000000" stroke-width="3.3"/>
<line x1="139.4" y1="1199.2" x2="146.8" y2="1199.2" stroke="#000000" stroke-width="3.3"/>
<line x1="139.4" y1="1196.97" x2="146.8" y2="1196.97" stroke="#000000" stroke-width="3.3"/>
<line x1="139.4" y1="1195.01" x2="146.8" y2="1195.01" stroke="#000000" stroke-width="3.3"/>
<line x1="139.4" y1="1181.68" x2="146.8" y2="1181.68" stroke="#000000" stroke-width="3.3"/>
<line x1="139.4" y1="1174.91" x2="146.8" y2="1174.91" stroke="#000000" stroke-width="3.3"/>
<line x1="139.4" y1="1170.11" x2="146.8" y2="1170.11" stroke="#000000" stroke-width="3.3"/>
<line x1="139.4" y1="1166.38" x2="146.8" y2="1166.38" stroke="#000000" stroke-width="3.3"/>
<line x1="139.4" y1="1163.34" x2="146.8" y2="1163.34" stroke="#000000" stroke-width="3.3"/>
<line x1="139.4" y1="1160.77" x2="146.8" y2="1160.77" stroke="#000000" stroke-width="3.3"/>
<line x1="139.4" y1="1158.54" x2="146.8" y2="1158.54" stroke="#000000" stroke-width="3.3"/>
<line x1="139.4" y1="1156.57" x2="146.8" y2="1156.57" stroke="#000000" stroke-width="3.3"/>
<line x1="139.4" y1="1143.24" x2="146.8" y2="1143.24" stroke="#000000" stroke-width="3.3"/>
<line x1="139.4" y1="1136.47" x2="146.8" y2="1136.47" stroke="#000000" stroke-width="3.3"/>
<line x1="139.4" y1="1131.67" x2="146.8" y2="1131.67" stroke="#000000" stroke-width="3.3"/>
<line x1="139.4" y1="1127.95" x2="146.8" y2="1127.95" stroke="#000000" stroke-width="3.3"/>
<line x1="139.4" y1="1124.9" x2="146.8" y2="1124.9" stroke="#000000" stroke-width="3.3"/>
<line x1="139.4" y1="1122.33" x2="146.8" y2="1122.33" stroke="#000000" stroke-width="3.3"/>
<line x1="139.4" y1="1120.1" x2="146.8" y2="1120.1" stroke="#000000" stroke-width="3.3"/>
<line x1="139.4" y1="1118.13" x2="146.8" y2="1118.13" stroke="#000000" stroke-width="3.3"/>
<line x1="139.4" y1="1104.8" x2="146.8" y2="1104.8" stroke="#000000" stroke-width="3.3"/>
<line x1="139.4" y1="1098.04" x2="146.8" y2="1098.04" stroke="#000000" stroke-width="3.3"/>
<line x1="139.4" y1="1093.23" x2="146.8" y2="1093.23" stroke="#000000" stroke-width="3.3"/>
<line x1="139.4" y1="1089.51" x2="146.8" y2="1089.51" stroke="#000000" stroke-width="3.3"/>
<line x1="139.4" y1="1086.46" x2="146.8" y2="1086.46" stroke="#000000" stroke-width="3.3"/>
<line x1="139.4" y1="1083.89" x2="146.8" y2="1083.89" stroke="#000000" stroke-width="3.3"/>
<line x1="139.4" y1="1081.66" x2="146.8" y2="1081.66" stroke="#000000" stroke-width="3.3"/>
<line x1="139.4" y1="1079.7" x2="146.8" y2="1079.7" stroke="#000000" stroke-width="3.3"/>
<line x1="139.4" y1="1066.37" x2="146.8" y2="1066.37" stroke="#000000" stroke-width="3.3"/>
<line x1="139.4" y1="1059.6" x2="146.8" y2="1059.6" stroke="#000000" stroke-width="3.3"/>
<line x1="139.4" y1="1054.8" x2="146.8" y2="1054.8" stroke="#000000" stroke-width="3.3"/>
<line x1="139.4" y1="1051.07" x2="146.8" y2="1051.07" stroke="#000000" stroke-width="3.3"/>
<line x1="139.4" y1="1048.03" x2="146.8" y2="1048.03" stroke="#000000" stroke-width="3.3"/>
<line x1="139.4" y1="1045.45" x2="146.8" y2="1045.45" stroke="#000000" stroke-width="3.3"/>
<line x1="139.4" y1="1043.22" x2="146.8" y2="1043.22" stroke="#000000" stroke-width="3.3"/>
<line x1="139.4" y1="1041.26" x2="146.8" y2="1041.26" stroke="#000000" stroke-width="3.3"/>
</g>
<g stroke-linecap="round">
<line x1="146.8" y1="1038.4" x2="146.8" y2="1348.9" stroke="#000000" stroke-width="3.8"/>
<line x1="136.5" y1="1347" x2="508.9" y2="1347" stroke="#000000" stroke-width="3.8"/>
<line x1="206.8" y1="1347" x2="206.8" y2="1357.1" stroke="#000000" stroke-width="3.8"/>
<line x1="328.05" y1="1347" x2="328.05" y2="1357.1" stroke="#000000" stroke-width="3.8"/>
<line x1="449.3" y1="1347" x2="449.3" y2="1357.1" stroke="#000000" stroke-width="3.8"/>
</g>
<g stroke-linecap="round">
<text transform="translate(122.4 1348.05) scale(1.3 1)" font-size="12.6" text-anchor="start" font-weight="bold" fill="#000000">0</text>
<text x="122.6" y="1356.95" font-size="25" text-anchor="end" font-weight="bold" fill="#000000">10</text>
<line x1="136.7" y1="1308.56" x2="146.8" y2="1308.56" stroke="#000000" stroke-width="3.4"/>
<text transform="translate(122.4 1309.61) scale(1.3 1)" font-size="12.6" text-anchor="start" font-weight="bold" fill="#000000">1</text>
<text x="122.6" y="1318.51" font-size="25" text-anchor="end" font-weight="bold" fill="#000000">10</text>
<line x1="136.7" y1="1270.12" x2="146.8" y2="1270.12" stroke="#000000" stroke-width="3.4"/>
<text transform="translate(122.4 1271.17) scale(1.3 1)" font-size="12.6" text-anchor="start" font-weight="bold" fill="#000000">2</text>
<text x="122.6" y="1280.07" font-size="25" text-anchor="end" font-weight="bold" fill="#000000">10</text>
<line x1="136.7" y1="1231.69" x2="146.8" y2="1231.69" stroke="#000000" stroke-width="3.4"/>
<text transform="translate(122.4 1232.73) scale(1.3 1)" font-size="12.6" text-anchor="start" font-weight="bold" fill="#000000">3</text>
<text x="122.6" y="1241.63" font-size="25" text-anchor="end" font-weight="bold" fill="#000000">10</text>
<line x1="136.7" y1="1193.25" x2="146.8" y2="1193.25" stroke="#000000" stroke-width="3.4"/>
<text transform="translate(122.4 1194.29) scale(1.3 1)" font-size="12.6" text-anchor="start" font-weight="bold" fill="#000000">4</text>
<text x="122.6" y="1203.19" font-size="25" text-anchor="end" font-weight="bold" fill="#000000">10</text>
<line x1="136.7" y1="1154.81" x2="146.8" y2="1154.81" stroke="#000000" stroke-width="3.4"/>
<text transform="translate(122.4 1155.85) scale(1.3 1)" font-size="12.6" text-anchor="start" font-weight="bold" fill="#000000">5</text>
<text x="122.6" y="1164.75" font-size="25" text-anchor="end" font-weight="bold" fill="#000000">10</text>
<line x1="136.7" y1="1116.38" x2="146.8" y2="1116.38" stroke="#000000" stroke-width="3.4"/>
<text transform="translate(122.4 1117.41) scale(1.3 1)" font-size="12.6" text-anchor="start" font-weight="bold" fill="#000000">6</text>
<text x="122.6" y="1126.31" font-size="25" text-anchor="end" font-weight="bold" fill="#000000">10</text>
<line x1="136.7" y1="1077.94" x2="146.8" y2="1077.94" stroke="#000000" stroke-width="3.4"/>
<text transform="translate(122.4 1078.97) scale(1.3 1)" font-size="12.6" text-anchor="start" font-weight="bold" fill="#000000">7</text>
<text x="122.6" y="1087.87" font-size="25" text-anchor="end" font-weight="bold" fill="#000000">10</text>
<line x1="136.7" y1="1039.5" x2="146.8" y2="1039.5" stroke="#000000" stroke-width="3.4"/>
<text transform="translate(122.4 1040.53) scale(1.3 1)" font-size="12.6" text-anchor="start" font-weight="bold" fill="#000000">8</text>
<text x="122.6" y="1049.43" font-size="25" text-anchor="end" font-weight="bold" fill="#000000">10</text>
</g>
<text transform="translate(219.4 1374.9) rotate(-45)" font-size="25" text-anchor="end" font-weight="bold" fill="#000000">Day 6</text>
<text transform="translate(340.65 1374.9) rotate(-45)" font-size="25" text-anchor="end" font-weight="bold" fill="#000000">Day 10</text>
<text transform="translate(461.9 1374.9) rotate(-45)" font-size="25" text-anchor="end" font-weight="bold" fill="#000000">Day 14</text>
<text transform="translate(77 1179.7) rotate(-90)" font-size="25" text-anchor="middle" font-weight="bold" fill="#000000">LuxA copies / mL</text>
<g stroke="#5b51ee" fill="none" stroke-linecap="round">
<path d="M206.8 1072.2V1077.8" stroke-width="5.2" stroke-linecap="butt"/>
<path d="M194.65 1072.2H218.95 M194.65 1077.8H218.95" stroke-width="4.7"/>
<path d="M183.1 1075H230.5" stroke-width="3.6"/>
<circle cx="193.9" cy="1072.8" r="7.25" stroke-width="5.1"/>
<circle cx="206.9" cy="1078.3" r="7.25" stroke-width="5.1"/>
<circle cx="221.4" cy="1074.1" r="7.25" stroke-width="5.1"/>
</g>
<g stroke="#5b51ee" fill="none" stroke-linecap="round">
<path d="M328.05 1070V1075.6" stroke-width="5.2" stroke-linecap="butt"/>
<path d="M315.9 1070H340.2 M315.9 1075.6H340.2" stroke-width="4.7"/>
<path d="M304.35 1072.8H351.75" stroke-width="3.6"/>
<circle cx="315.1" cy="1070.2" r="7.25" stroke-width="5.1"/>
<circle cx="328" cy="1076.7" r="7.25" stroke-width="5.1"/>
<circle cx="342.6" cy="1071.2" r="7.25" stroke-width="5.1"/>
</g>
<g stroke="#5b51ee" fill="none" stroke-linecap="round">
<path d="M449.3 1071.2V1076.8" stroke-width="5.2" stroke-linecap="butt"/>
<path d="M437.15 1071.2H461.45 M437.15 1076.8H461.45" stroke-width="4.7"/>
<path d="M425.6 1074H473" stroke-width="3.6"/>
<circle cx="436.3" cy="1071.2" r="7.25" stroke-width="5.1"/>
<circle cx="449.3" cy="1076.7" r="7.25" stroke-width="5.1"/>
<circle cx="463.2" cy="1072.8" r="7.25" stroke-width="5.1"/>
</g>
<g stroke-linecap="butt">
<line x1="635.1" y1="1333.2" x2="642.5" y2="1333.2" stroke="#000000" stroke-width="3.3"/>
<line x1="635.1" y1="1327.18" x2="642.5" y2="1327.18" stroke="#000000" stroke-width="3.3"/>
<line x1="635.1" y1="1322.91" x2="642.5" y2="1322.91" stroke="#000000" stroke-width="3.3"/>
<line x1="635.1" y1="1319.6" x2="642.5" y2="1319.6" stroke="#000000" stroke-width="3.3"/>
<line x1="635.1" y1="1316.89" x2="642.5" y2="1316.89" stroke="#000000" stroke-width="3.3"/>
<line x1="635.1" y1="1314.6" x2="642.5" y2="1314.6" stroke="#000000" stroke-width="3.3"/>
<line x1="635.1" y1="1312.61" x2="642.5" y2="1312.61" stroke="#000000" stroke-width="3.3"/>
<line x1="635.1" y1="1310.86" x2="642.5" y2="1310.86" stroke="#000000" stroke-width="3.3"/>
<line x1="635.1" y1="1299" x2="642.5" y2="1299" stroke="#000000" stroke-width="3.3"/>
<line x1="635.1" y1="1292.98" x2="642.5" y2="1292.98" stroke="#000000" stroke-width="3.3"/>
<line x1="635.1" y1="1288.71" x2="642.5" y2="1288.71" stroke="#000000" stroke-width="3.3"/>
<line x1="635.1" y1="1285.4" x2="642.5" y2="1285.4" stroke="#000000" stroke-width="3.3"/>
<line x1="635.1" y1="1282.69" x2="642.5" y2="1282.69" stroke="#000000" stroke-width="3.3"/>
<line x1="635.1" y1="1280.4" x2="642.5" y2="1280.4" stroke="#000000" stroke-width="3.3"/>
<line x1="635.1" y1="1278.41" x2="642.5" y2="1278.41" stroke="#000000" stroke-width="3.3"/>
<line x1="635.1" y1="1276.66" x2="642.5" y2="1276.66" stroke="#000000" stroke-width="3.3"/>
<line x1="635.1" y1="1264.8" x2="642.5" y2="1264.8" stroke="#000000" stroke-width="3.3"/>
<line x1="635.1" y1="1258.78" x2="642.5" y2="1258.78" stroke="#000000" stroke-width="3.3"/>
<line x1="635.1" y1="1254.51" x2="642.5" y2="1254.51" stroke="#000000" stroke-width="3.3"/>
<line x1="635.1" y1="1251.2" x2="642.5" y2="1251.2" stroke="#000000" stroke-width="3.3"/>
<line x1="635.1" y1="1248.49" x2="642.5" y2="1248.49" stroke="#000000" stroke-width="3.3"/>
<line x1="635.1" y1="1246.2" x2="642.5" y2="1246.2" stroke="#000000" stroke-width="3.3"/>
<line x1="635.1" y1="1244.21" x2="642.5" y2="1244.21" stroke="#000000" stroke-width="3.3"/>
<line x1="635.1" y1="1242.46" x2="642.5" y2="1242.46" stroke="#000000" stroke-width="3.3"/>
<line x1="635.1" y1="1230.6" x2="642.5" y2="1230.6" stroke="#000000" stroke-width="3.3"/>
<line x1="635.1" y1="1224.58" x2="642.5" y2="1224.58" stroke="#000000" stroke-width="3.3"/>
<line x1="635.1" y1="1220.31" x2="642.5" y2="1220.31" stroke="#000000" stroke-width="3.3"/>
<line x1="635.1" y1="1217" x2="642.5" y2="1217" stroke="#000000" stroke-width="3.3"/>
<line x1="635.1" y1="1214.29" x2="642.5" y2="1214.29" stroke="#000000" stroke-width="3.3"/>
<line x1="635.1" y1="1212" x2="642.5" y2="1212" stroke="#000000" stroke-width="3.3"/>
<line x1="635.1" y1="1210.01" x2="642.5" y2="1210.01" stroke="#000000" stroke-width="3.3"/>
<line x1="635.1" y1="1208.26" x2="642.5" y2="1208.26" stroke="#000000" stroke-width="3.3"/>
<line x1="635.1" y1="1196.4" x2="642.5" y2="1196.4" stroke="#000000" stroke-width="3.3"/>
<line x1="635.1" y1="1190.38" x2="642.5" y2="1190.38" stroke="#000000" stroke-width="3.3"/>
<line x1="635.1" y1="1186.11" x2="642.5" y2="1186.11" stroke="#000000" stroke-width="3.3"/>
<line x1="635.1" y1="1182.8" x2="642.5" y2="1182.8" stroke="#000000" stroke-width="3.3"/>
<line x1="635.1" y1="1180.09" x2="642.5" y2="1180.09" stroke="#000000" stroke-width="3.3"/>
<line x1="635.1" y1="1177.8" x2="642.5" y2="1177.8" stroke="#000000" stroke-width="3.3"/>
<line x1="635.1" y1="1175.81" x2="642.5" y2="1175.81" stroke="#000000" stroke-width="3.3"/>
<line x1="635.1" y1="1174.06" x2="642.5" y2="1174.06" stroke="#000000" stroke-width="3.3"/>
<line x1="635.1" y1="1162.2" x2="642.5" y2="1162.2" stroke="#000000" stroke-width="3.3"/>
<line x1="635.1" y1="1156.18" x2="642.5" y2="1156.18" stroke="#000000" stroke-width="3.3"/>
<line x1="635.1" y1="1151.91" x2="642.5" y2="1151.91" stroke="#000000" stroke-width="3.3"/>
<line x1="635.1" y1="1148.6" x2="642.5" y2="1148.6" stroke="#000000" stroke-width="3.3"/>
<line x1="635.1" y1="1145.89" x2="642.5" y2="1145.89" stroke="#000000" stroke-width="3.3"/>
<line x1="635.1" y1="1143.6" x2="642.5" y2="1143.6" stroke="#000000" stroke-width="3.3"/>
<line x1="635.1" y1="1141.61" x2="642.5" y2="1141.61" stroke="#000000" stroke-width="3.3"/>
<line x1="635.1" y1="1139.86" x2="642.5" y2="1139.86" stroke="#000000" stroke-width="3.3"/>
<line x1="635.1" y1="1128" x2="642.5" y2="1128" stroke="#000000" stroke-width="3.3"/>
<line x1="635.1" y1="1121.98" x2="642.5" y2="1121.98" stroke="#000000" stroke-width="3.3"/>
<line x1="635.1" y1="1117.71" x2="642.5" y2="1117.71" stroke="#000000" stroke-width="3.3"/>
<line x1="635.1" y1="1114.4" x2="642.5" y2="1114.4" stroke="#000000" stroke-width="3.3"/>
<line x1="635.1" y1="1111.69" x2="642.5" y2="1111.69" stroke="#000000" stroke-width="3.3"/>
<line x1="635.1" y1="1109.4" x2="642.5" y2="1109.4" stroke="#000000" stroke-width="3.3"/>
<line x1="635.1" y1="1107.41" x2="642.5" y2="1107.41" stroke="#000000" stroke-width="3.3"/>
<line x1="635.1" y1="1105.66" x2="642.5" y2="1105.66" stroke="#000000" stroke-width="3.3"/>
<line x1="635.1" y1="1093.8" x2="642.5" y2="1093.8" stroke="#000000" stroke-width="3.3"/>
<line x1="635.1" y1="1087.78" x2="642.5" y2="1087.78" stroke="#000000" stroke-width="3.3"/>
<line x1="635.1" y1="1083.51" x2="642.5" y2="1083.51" stroke="#000000" stroke-width="3.3"/>
<line x1="635.1" y1="1080.2" x2="642.5" y2="1080.2" stroke="#000000" stroke-width="3.3"/>
<line x1="635.1" y1="1077.49" x2="642.5" y2="1077.49" stroke="#000000" stroke-width="3.3"/>
<line x1="635.1" y1="1075.2" x2="642.5" y2="1075.2" stroke="#000000" stroke-width="3.3"/>
<line x1="635.1" y1="1073.21" x2="642.5" y2="1073.21" stroke="#000000" stroke-width="3.3"/>
<line x1="635.1" y1="1071.46" x2="642.5" y2="1071.46" stroke="#000000" stroke-width="3.3"/>
<line x1="635.1" y1="1059.6" x2="642.5" y2="1059.6" stroke="#000000" stroke-width="3.3"/>
<line x1="635.1" y1="1053.58" x2="642.5" y2="1053.58" stroke="#000000" stroke-width="3.3"/>
<line x1="635.1" y1="1049.31" x2="642.5" y2="1049.31" stroke="#000000" stroke-width="3.3"/>
<line x1="635.1" y1="1046" x2="642.5" y2="1046" stroke="#000000" stroke-width="3.3"/>
<line x1="635.1" y1="1043.29" x2="642.5" y2="1043.29" stroke="#000000" stroke-width="3.3"/>
<line x1="635.1" y1="1041" x2="642.5" y2="1041" stroke="#000000" stroke-width="3.3"/>
<line x1="635.1" y1="1039.01" x2="642.5" y2="1039.01" stroke="#000000" stroke-width="3.3"/>
<line x1="635.1" y1="1037.26" x2="642.5" y2="1037.26" stroke="#000000" stroke-width="3.3"/>
</g>
<g stroke-linecap="round">
<line x1="642.5" y1="1034.6" x2="642.5" y2="1345.4" stroke="#000000" stroke-width="3.8"/>
<line x1="632.2" y1="1343.5" x2="1004.6" y2="1343.5" stroke="#000000" stroke-width="3.8"/>
<line x1="702.7" y1="1343.5" x2="702.7" y2="1352.9" stroke="#000000" stroke-width="3.8"/>
<line x1="823.9" y1="1343.5" x2="823.9" y2="1352.9" stroke="#000000" stroke-width="3.8"/>
<line x1="945.1" y1="1343.5" x2="945.1" y2="1352.9" stroke="#000000" stroke-width="3.8"/>
</g>
<g stroke-linecap="round">
<text transform="translate(617.2 1346.35) scale(1.3 1)" font-size="12.6" text-anchor="start" font-weight="bold" fill="#000000">0</text>
<text x="617.4" y="1355.25" font-size="25" text-anchor="end" font-weight="bold" fill="#000000">10</text>
<line x1="632.4" y1="1309.3" x2="642.5" y2="1309.3" stroke="#000000" stroke-width="3.4"/>
<text transform="translate(617.2 1311.35) scale(1.3 1)" font-size="12.6" text-anchor="start" font-weight="bold" fill="#000000">1</text>
<text x="617.4" y="1320.25" font-size="25" text-anchor="end" font-weight="bold" fill="#000000">10</text>
<line x1="632.4" y1="1275.1" x2="642.5" y2="1275.1" stroke="#000000" stroke-width="3.4"/>
<text transform="translate(617.2 1276.35) scale(1.3 1)" font-size="12.6" text-anchor="start" font-weight="bold" fill="#000000">2</text>
<text x="617.4" y="1285.25" font-size="25" text-anchor="end" font-weight="bold" fill="#000000">10</text>
<line x1="632.4" y1="1240.9" x2="642.5" y2="1240.9" stroke="#000000" stroke-width="3.4"/>
<text transform="translate(617.2 1241.35) scale(1.3 1)" font-size="12.6" text-anchor="start" font-weight="bold" fill="#000000">3</text>
<text x="617.4" y="1250.25" font-size="25" text-anchor="end" font-weight="bold" fill="#000000">10</text>
<line x1="632.4" y1="1206.7" x2="642.5" y2="1206.7" stroke="#000000" stroke-width="3.4"/>
<text transform="translate(617.2 1206.35) scale(1.3 1)" font-size="12.6" text-anchor="start" font-weight="bold" fill="#000000">4</text>
<text x="617.4" y="1215.25" font-size="25" text-anchor="end" font-weight="bold" fill="#000000">10</text>
<line x1="632.4" y1="1172.5" x2="642.5" y2="1172.5" stroke="#000000" stroke-width="3.4"/>
<text transform="translate(617.2 1171.35) scale(1.3 1)" font-size="12.6" text-anchor="start" font-weight="bold" fill="#000000">5</text>
<text x="617.4" y="1180.25" font-size="25" text-anchor="end" font-weight="bold" fill="#000000">10</text>
<line x1="632.4" y1="1138.3" x2="642.5" y2="1138.3" stroke="#000000" stroke-width="3.4"/>
<text transform="translate(617.2 1136.35) scale(1.3 1)" font-size="12.6" text-anchor="start" font-weight="bold" fill="#000000">6</text>
<text x="617.4" y="1145.25" font-size="25" text-anchor="end" font-weight="bold" fill="#000000">10</text>
<line x1="632.4" y1="1104.1" x2="642.5" y2="1104.1" stroke="#000000" stroke-width="3.4"/>
<text transform="translate(617.2 1101.35) scale(1.3 1)" font-size="12.6" text-anchor="start" font-weight="bold" fill="#000000">7</text>
<text x="617.4" y="1110.25" font-size="25" text-anchor="end" font-weight="bold" fill="#000000">10</text>
<line x1="632.4" y1="1069.9" x2="642.5" y2="1069.9" stroke="#000000" stroke-width="3.4"/>
<text transform="translate(617.2 1066.35) scale(1.3 1)" font-size="12.6" text-anchor="start" font-weight="bold" fill="#000000">8</text>
<text x="617.4" y="1075.25" font-size="25" text-anchor="end" font-weight="bold" fill="#000000">10</text>
<line x1="632.4" y1="1035.7" x2="642.5" y2="1035.7" stroke="#000000" stroke-width="3.4"/>
<text transform="translate(617.2 1031.35) scale(1.3 1)" font-size="12.6" text-anchor="start" font-weight="bold" fill="#000000">9</text>
<text x="617.4" y="1040.25" font-size="25" text-anchor="end" font-weight="bold" fill="#000000">10</text>
</g>
<text transform="translate(715.3 1371.4) rotate(-45)" font-size="25" text-anchor="end" font-weight="bold" fill="#000000">Day 6</text>
<text transform="translate(836.5 1371.4) rotate(-45)" font-size="25" text-anchor="end" font-weight="bold" fill="#000000">Day 10</text>
<text transform="translate(957.7 1371.4) rotate(-45)" font-size="25" text-anchor="end" font-weight="bold" fill="#000000">Day 14</text>
<text transform="translate(571.2 1182.3) rotate(-90)" font-size="25" text-anchor="middle" font-weight="bold" fill="#000000">Nb-TNF copies / mL</text>
<g stroke="#5b51ee" fill="none" stroke-linecap="round">
<path d="M702.7 1069.1V1124.2" stroke-width="5.2" stroke-linecap="butt"/>
<path d="M690.55 1069.1H714.85 M690.55 1124.2H714.85" stroke-width="4.7"/>
<path d="M679 1079.75H726.4" stroke-width="3.6"/>
<circle cx="691.7" cy="1069.6" r="7.25" stroke-width="5.1"/>
<circle cx="713.4" cy="1080" r="7.25" stroke-width="5.1"/>
<circle cx="702.9" cy="1122.8" r="7.25" stroke-width="5.1"/>
</g>
<g stroke="#5b51ee" fill="none" stroke-linecap="round">
<path d="M823.9 1091.8V1153.6" stroke-width="5.2" stroke-linecap="butt"/>
<path d="M811.75 1091.8H836.05 M811.75 1153.6H836.05" stroke-width="4.7"/>
<path d="M800.2 1101.3H847.6" stroke-width="3.6"/>
<circle cx="823.9" cy="1090.8" r="7.25" stroke-width="5.1"/>
<circle cx="835.1" cy="1112" r="7.25" stroke-width="5.1"/>
<circle cx="813.4" cy="1116.1" r="7.25" stroke-width="5.1"/>
</g>
<g stroke="#5b51ee" fill="none" stroke-linecap="round">
<path d="M945.1 1084.2V1119.4" stroke-width="5.2" stroke-linecap="butt"/>
<path d="M932.95 1084.2H957.25 M932.95 1119.4H957.25" stroke-width="4.7"/>
<path d="M921.4 1093.1H968.8" stroke-width="3.6"/>
<circle cx="944.9" cy="1084" r="7.25" stroke-width="5.1"/>
<circle cx="956.3" cy="1096" r="7.25" stroke-width="5.1"/>
<circle cx="934" cy="1115.4" r="7.25" stroke-width="5.1"/>
</g>
<text x="0.5" y="44" font-size="50.3" text-anchor="start" fill="#000000">A</text>
<text x="518.3" y="44" font-size="50.3" text-anchor="start" fill="#000000">B</text>
<text x="1011.7" y="44.4" font-size="50.3" text-anchor="start" fill="#000000">C</text>
<text x="1488.7" y="44" font-size="50.3" text-anchor="start" fill="#000000">D</text>
<text x="0.75" y="532" font-size="50.3" text-anchor="start" fill="#000000">E</text>
<text x="521.8" y="532" font-size="50.3" text-anchor="start" fill="#000000">F</text>
<text x="1004.1" y="532.4" font-size="50.3" text-anchor="start" fill="#000000">G</text>
<text x="1488.9" y="532" font-size="50.3" text-anchor="start" fill="#000000">H</text>
<text x="32.7" y="1019" font-size="50.3" text-anchor="start" fill="#000000">I</text>
<text x="531.4" y="1019.3" font-size="50.3" text-anchor="start" fill="#000000">J</text>
<rect x="540" y="982" width="8.1" height="6.4" fill="#ffffff"/>
<text transform="translate(45.2 229) rotate(-90)" font-size="41.3" text-anchor="middle" fill="#000000">Day 4</text>
<text transform="translate(45.2 698.4) rotate(-90)" font-size="41" text-anchor="middle" fill="#000000">Day 5</text>
</svg>
</body>
</html>
